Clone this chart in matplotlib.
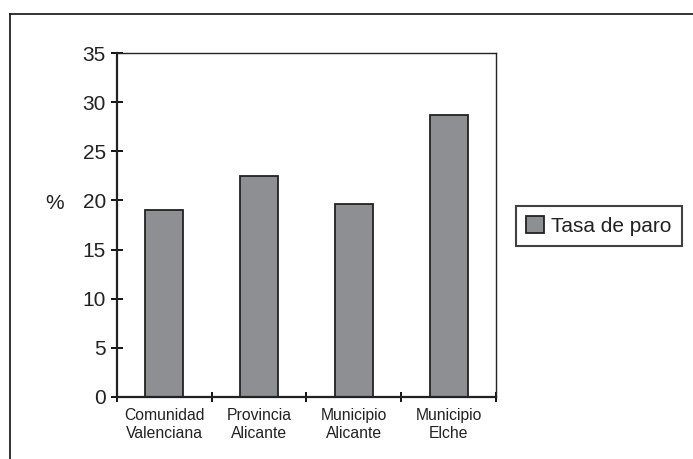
import matplotlib.pyplot as plt
from matplotlib.lines import Line2D
from matplotlib.transforms import blended_transform_factory

plt.rcParams['font.family'] = ['Liberation Sans', 'DejaVu Sans']

# tasa de paro por zona
zonas = ['Comunidad\nValenciana', 'Provincia\nAlicante', 'Municipio\nAlicante', 'Municipio\nElche']
tasa = [19.0, 22.5, 19.6, 28.7]
yticks = [0, 5, 10, 15, 20, 25, 30, 35]

fig = plt.figure(figsize=(6.93, 4.59), dpi=100)
ax = fig.add_axes([0.1688, 0.1351, 0.5469, 0.7494])

bars = ax.bar(range(len(zonas)), tasa, width=0.4, color='#8e8f93',
              edgecolor='#222222', linewidth=1.3, label='Tasa de paro')

ax.set_xlim(-0.5, len(zonas) - 0.5)
ax.set_ylim(0, 35)
ax.set_yticks(yticks)
ax.set_xticks(range(len(zonas)))
ax.set_xticklabels(zonas, fontsize=11.3, color='#222222', linespacing=1.2)
ax.set_xticks([i - 0.5 for i in range(len(zonas) + 1)], minor=True)
ax.tick_params(axis='x', which='major', length=0, pad=8)
ax.tick_params(axis='x', which='minor', direction='inout', length=7, width=1.3)
ax.tick_params(axis='y', direction='inout', length=8, width=1.3, labelsize=15,
               labelcolor='#222222', pad=4)

for s in ['left', 'bottom']:
    ax.spines[s].set_linewidth(1.6)
    ax.spines[s].set_color('#222222')
for s in ['top', 'right']:
    ax.spines[s].set_linewidth(1.0)
    ax.spines[s].set_color('#222222')

# etiqueta del eje y a la altura del 20
trans = blended_transform_factory(fig.transFigure, ax.transData)
ax.text(55 / 693, 19.7, '%', transform=trans, fontsize=15, color='#222222',
        ha='center', va='center')

leg = fig.legend(handles=[bars], loc='center left', bbox_to_anchor=(0.7446, 0.5076),
                 fontsize=15, frameon=True, fancybox=False, handlelength=0.85,
                 handleheight=0.85, handletextpad=0.35, borderpad=0.5,
                 borderaxespad=0)
leg.get_frame().set_edgecolor('#111111')
leg.get_frame().set_linewidth(1.5)
for t in leg.get_texts():
    t.set_color('#222222')

# marco exterior
x0 = 10 / 693
y0 = 1 - 14 / 459
fig.add_artist(Line2D([x0, x0], [0, y0], transform=fig.transFigure, color='#222222', lw=1.3))
fig.add_artist(Line2D([x0, 1], [y0, y0], transform=fig.transFigure, color='#222222', lw=1.3))

fig.savefig('out.png', dpi=100)
